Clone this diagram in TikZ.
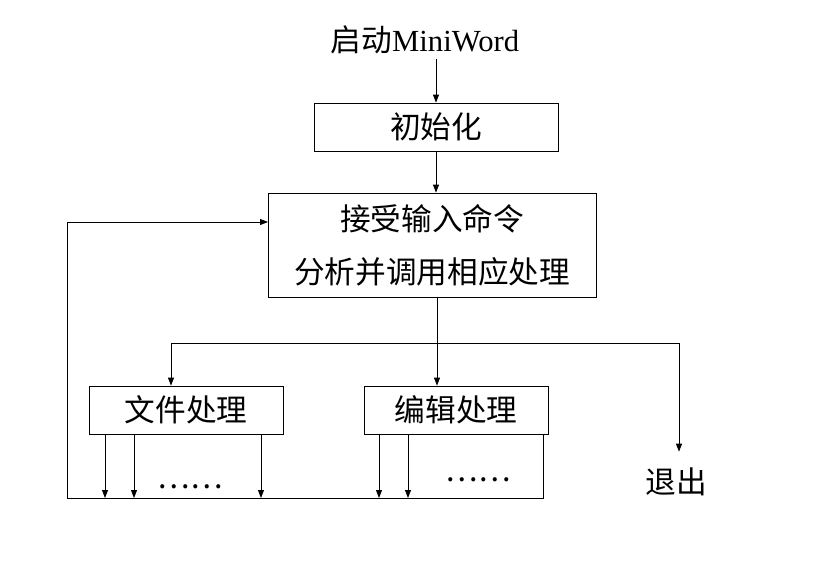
\documentclass[tikz,border=0pt]{standalone}
\usepackage{fontspec}
\setmainfont{Liberation Serif}
\newfontfamily\cjk{Noto Sans CJK SC}
\usetikzlibrary{arrows.meta}
\tikzset{
  box/.style={draw, line width=0.6pt, inner sep=0pt},
  arr/.style={line width=0.6pt, -{Triangle[length=6pt,width=4.5pt]}},
  line/.style={line width=0.6pt},
}
\begin{document}
\begin{tikzpicture}[x=0.75pt,y=-0.75pt,font=\fontsize{23pt}{28pt}\selectfont\cjk]
\useasboundingbox[fill=white] (0,0) rectangle (818,575);

\node (start) at (425,40) {启动{\rmfamily MiniWord}};
\node[box, minimum width=183pt, minimum height=36pt] (init) at (436,127) {初始化};
\node[box, minimum width=246pt, minimum height=78pt, align=center] (cmd) at (432,245) {接受输入命令\\[12pt]分析并调用相应处理};
\node[box, minimum width=145.5pt, minimum height=36pt] (file) at (186,410) {文件处理};
\node[box, minimum width=138pt, minimum height=36pt] (edit) at (456,410) {编辑处理};
\node[inner ysep=12pt] (quit) at (676,482) {退出};
\node (dotsa) at (190,487) {……};
\node (dotsb) at (478,480) {……};

\coordinate (split) at (437,343);
\coordinate (loopL) at (67,498);
\coordinate (loopR) at (543,498);
\coordinate (back) at (268,222);

\draw[arr] (start.south -| init) -- (init);
\draw[arr] (init) -- (init |- cmd.north);
\draw[line] (cmd.south -| split) -- (split);
\draw[arr] (split) -- (split |- edit.north);
\draw[arr] (split) -| (file.north -| 171,0);
\draw[arr] (split) -| (quit.north -| 679,0);

% back to command loop
\draw[arr] (loopR |- edit.south) -- (loopR) -- (loopL) |- (back);
\foreach \x in {105,134,261}
  \draw[arr] (file.south -| \x,0) -- (loopL -| \x,0);
\foreach \x in {379,408}
  \draw[arr] (edit.south -| \x,0) -- (loopL -| \x,0);
\end{tikzpicture}
\end{document}
